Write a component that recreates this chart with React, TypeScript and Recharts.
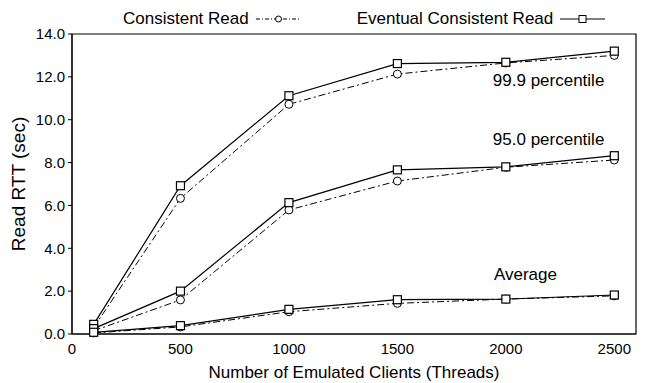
import {
	Legend,
	Line,
	LineChart,
	ReferenceArea,
	ReferenceDot,
	XAxis,
	YAxis,
} from "recharts";

const clients = [100, 500, 1000, 1500, 2000, 2500];
const consistentP999 = [0.3, 6.33, 10.72, 12.13, 12.65, 13.0];
const eventualP999 = [0.45, 6.92, 11.12, 12.62, 12.68, 13.2];
const consistentP950 = [0.15, 1.59, 5.79, 7.14, 7.78, 8.12];
const eventualP950 = [0.25, 2.0, 6.13, 7.66, 7.8, 8.32];
const consistentAvg = [0.05, 0.33, 1.04, 1.43, 1.63, 1.78];
const eventualAvg = [0.08, 0.39, 1.15, 1.6, 1.63, 1.82];
const xTicks = [0, 500, 1000, 1500, 2000, 2500];
const yTicks = [0, 2, 4, 6, 8, 10, 12, 14];

const data = clients.map((c, i) => ({
	clients: c,
	cP999: consistentP999[i],
	eP999: eventualP999[i],
	cP950: consistentP950[i],
	eP950: eventualP950[i],
	cAvg: consistentAvg[i],
	eAvg: eventualAvg[i],
}));

const font = "'Liberation Sans', Arial, sans-serif";
const dashDot = "7 3 2 3";

function Square(props: any) {
	const { cx, cy } = props;
	if (cx == null || cy == null) return null;
	return (
		<rect
			x={cx - 4}
			y={cy - 4}
			width={8}
			height={8}
			fill="#fff"
			stroke="#000"
			strokeWidth={1.2}
		/>
	);
}

function Circle(props: any) {
	const { cx, cy } = props;
	if (cx == null || cy == null) return null;
	return <circle cx={cx} cy={cy} r={4} fill="#fff" stroke="#000" strokeWidth={1} />;
}

function LegendSample(props: { dashed: boolean }) {
	return (
		<svg width={45} height={12} style={{ marginLeft: 7 }}>
			<line
				x1={0}
				x2={45}
				y1={6}
				y2={6}
				stroke="#000"
				strokeWidth={1}
				strokeDasharray={props.dashed ? "4 2 1 2" : undefined}
			/>
			{props.dashed ? (
				<circle cx={22.5} cy={6} r={3} fill="#fff" stroke="#000" />
			) : (
				<rect x={19} y={2.5} width={7} height={7} fill="#fff" stroke="#000" />
			)}
		</svg>
	);
}

function TopLegend() {
	return (
		<div
			style={{
				display: "flex",
				alignItems: "center",
				height: 30,
				fontFamily: font,
				fontSize: 17,
				color: "#000",
			}}
		>
			<div style={{ marginLeft: 123, display: "flex", alignItems: "center" }}>
				Consistent Read
				<LegendSample dashed />
			</div>
			<div style={{ marginLeft: 56, display: "flex", alignItems: "center" }}>
				Eventual Consistent Read
				<LegendSample dashed={false} />
			</div>
		</div>
	);
}

const annotations = [
	{ text: "99.9 percentile", x: 1940, y: 11.85 },
	{ text: "95.0 percentile", x: 1940, y: 9.1 },
	{ text: "Average", x: 1945, y: 2.8 },
];

function AnnotationText(props: any) {
	const { viewBox, value } = props;
	return (
		<text
			x={viewBox.x}
			y={viewBox.y}
			dy={6}
			textAnchor="start"
			fontFamily={font}
			fontSize={17}
			fill="#000"
		>
			{value}
		</text>
	);
}

export default function App() {
	return (
		<div style={{ position: "absolute", left: 0, top: 0 }}>
			<LineChart
				width={648}
				height={383}
				data={data}
				margin={{ top: 4, right: 12, bottom: 19, left: 0 }}
			>
				<Legend
					verticalAlign="top"
					content={() => <TopLegend />}
					wrapperStyle={{ left: 0, top: 4, width: 648 }}
				/>
				<XAxis
					dataKey="clients"
					type="number"
					domain={[0, 2600]}
					ticks={xTicks}
					height={30}
					tickSize={0}
					tickMargin={9}
					stroke="#000"
					tick={{ fill: "#000", fontFamily: font, fontSize: 15 }}
					label={{
						value: "Number of Emulated Clients (Threads)",
						position: "insideBottom",
						offset: -14,
						fill: "#000",
						fontFamily: font,
						fontSize: 17,
					}}
				/>
				<YAxis
					type="number"
					domain={[0, 14]}
					ticks={yTicks}
					width={72}
					tickSize={4}
					tickMargin={3}
					stroke="#000"
					tickFormatter={(v: number) => v.toFixed(1)}
					tick={{ fill: "#000", fontFamily: font, fontSize: 15 }}
					label={{
						value: "Read RTT (sec)",
						angle: -90,
						position: "insideLeft",
						offset: 18,
						style: { textAnchor: "middle" },
						fill: "#000",
						fontFamily: font,
						fontSize: 19,
					}}
				/>
				<ReferenceArea
					x1={0}
					x2={2600}
					y1={0}
					y2={14}
					fill="none"
					stroke="#000"
					strokeWidth={1.2}
					ifOverflow="visible"
				/>
				{(["cP999", "cP950", "cAvg"] as const).map((k) => (
					<Line
						key={k}
						dataKey={k}
						stroke="#000"
						strokeWidth={1}
						strokeDasharray={dashDot}
						dot={<Circle />}
						activeDot={false}
						isAnimationActive={false}
						legendType="none"
					/>
				))}
				{(["eP999", "eP950", "eAvg"] as const).map((k) => (
					<Line
						key={k}
						dataKey={k}
						stroke="#000"
						strokeWidth={1.2}
						dot={<Square />}
						activeDot={false}
						isAnimationActive={false}
						legendType="none"
					/>
				))}
				{annotations.map((a) => (
					<ReferenceDot
						key={a.text}
						x={a.x}
						y={a.y}
						r={0}
						fill="none"
						stroke="none"
						label={<AnnotationText value={a.text} />}
					/>
				))}
			</LineChart>
		</div>
	);
}
